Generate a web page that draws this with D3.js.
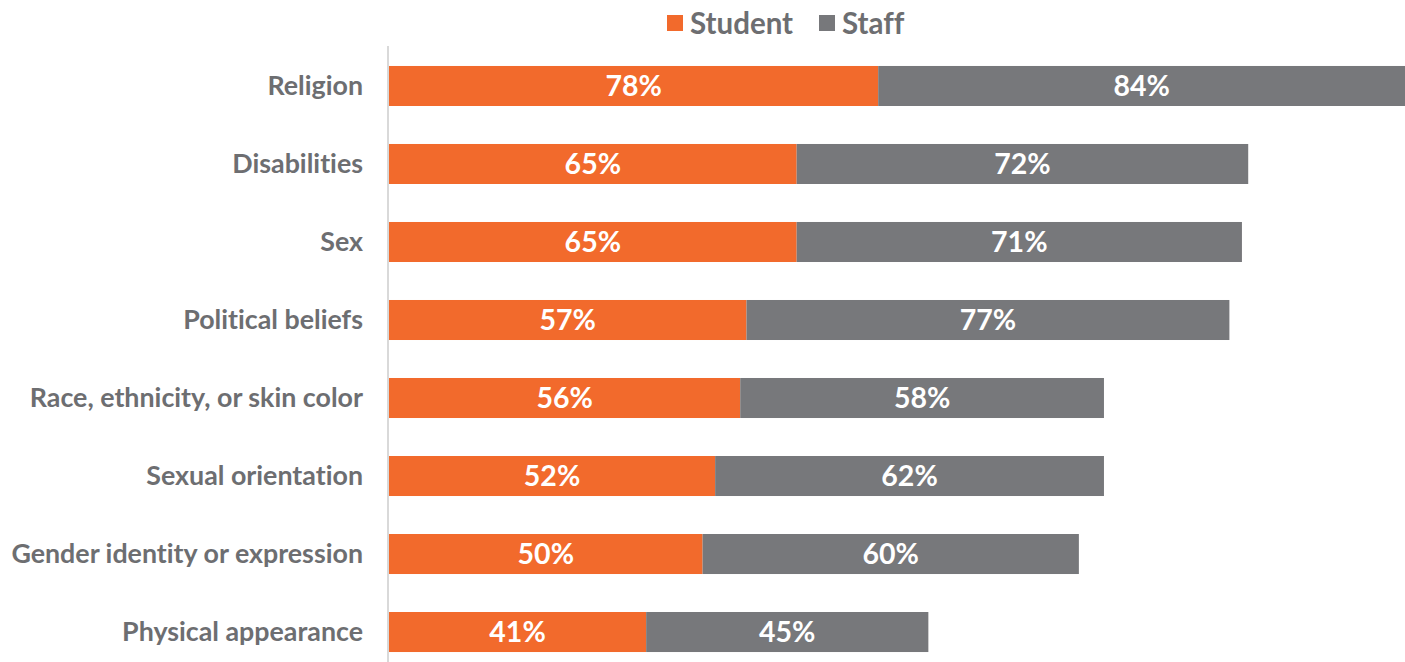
<!DOCTYPE html>
<html>
<head>
<meta charset="utf-8">
<script src="https://cdn.jsdelivr.net/npm/d3@7"></script>
<style>
  body { margin: 0; background: #fff; }
  svg { display: block; font-family: Lato, "Open Sans", sans-serif; font-variant-ligatures: none; }
</style>
</head>
<body>
<svg id="chart" width="1405" height="662"></svg>
<script>
// data
const categories = [
  "Religion",
  "Disabilities",
  "Sex",
  "Political beliefs",
  "Race, ethnicity, or skin color",
  "Sexual orientation",
  "Gender identity or expression",
  "Physical appearance"
];
const student = [78, 65, 65, 57, 56, 52, 50, 41];
const staff = [84, 72, 71, 77, 58, 62, 60, 45];
const seriesNames = ["Student", "Staff"];
const colors = ["#F26A2C", "#77787B"];

const width = 1405, height = 662;
const margin = { top: 46, right: 0, bottom: 0, left: 389 };

const svg = d3.select("#chart");

const rows = categories.map((c, i) => ({ cat: c, vals: [student[i], staff[i]] }));

const x = d3.scaleLinear()
  .domain([0, d3.max(rows, d => d.vals[0] + d.vals[1])])
  .range([margin.left, width - margin.right]);

const y = d3.scaleBand()
  .domain(categories)
  .range([margin.top, height])
  .paddingInner(0.487)
  .paddingOuter(0.192)
  .align(0.667);

// axis line
svg.append("line")
  .attr("x1", margin.left - 1).attr("x2", margin.left - 1)
  .attr("y1", margin.top).attr("y2", height)
  .attr("stroke", "#d9d9d9")
  .attr("stroke-width", 2);

// category labels
svg.append("g")
  .selectAll("text")
  .data(categories)
  .join("text")
  .attr("x", margin.left - 26)
  .attr("y", d => y(d) + y.bandwidth() / 2)
  .attr("text-anchor", "end")
  .attr("dy", "0.35em")
  .attr("fill", "#6d6e71")
  .style("font-size", "26.8px")
  .style("font-weight", 700)
  .text(d => d);

// stacked bars
const segs = [];
rows.forEach(r => {
  let x0 = 0;
  r.vals.forEach((v, k) => {
    segs.push({ cat: r.cat, k: k, x0: x0, x1: x0 + v, v: v });
    x0 += v;
  });
});

const bars = svg.append("g");
bars.selectAll("rect")
  .data(segs)
  .join("rect")
  .attr("x", d => x(d.x0))
  .attr("y", d => y(d.cat))
  .attr("width", d => x(d.x1) - x(d.x0))
  .attr("height", y.bandwidth())
  .attr("fill", d => colors[d.k]);

bars.selectAll("text")
  .data(segs)
  .join("text")
  .attr("x", d => (x(d.x0) + x(d.x1)) / 2)
  .attr("y", d => y(d.cat) + y.bandwidth() / 2)
  .attr("text-anchor", "middle")
  .attr("dy", "0.36em")
  .attr("fill", "#fff")
  .style("font-size", "28.5px")
  .style("font-weight", 700)
  .text(d => d.v + "%");

// legend
const legend = svg.append("g");
const legX = [667, 819];
seriesNames.forEach((name, k) => {
  legend.append("rect")
    .attr("x", legX[k]).attr("y", 15)
    .attr("width", 16).attr("height", 16)
    .attr("fill", colors[k]);
  legend.append("text")
    .attr("x", legX[k] + 23).attr("y", 23)
    .attr("dy", "0.36em")
    .attr("fill", "#6d6e71")
    .style("font-size", "29.5px")
    .style("font-weight", 700)
    .text(name);
});
</script>
</body>
</html>
